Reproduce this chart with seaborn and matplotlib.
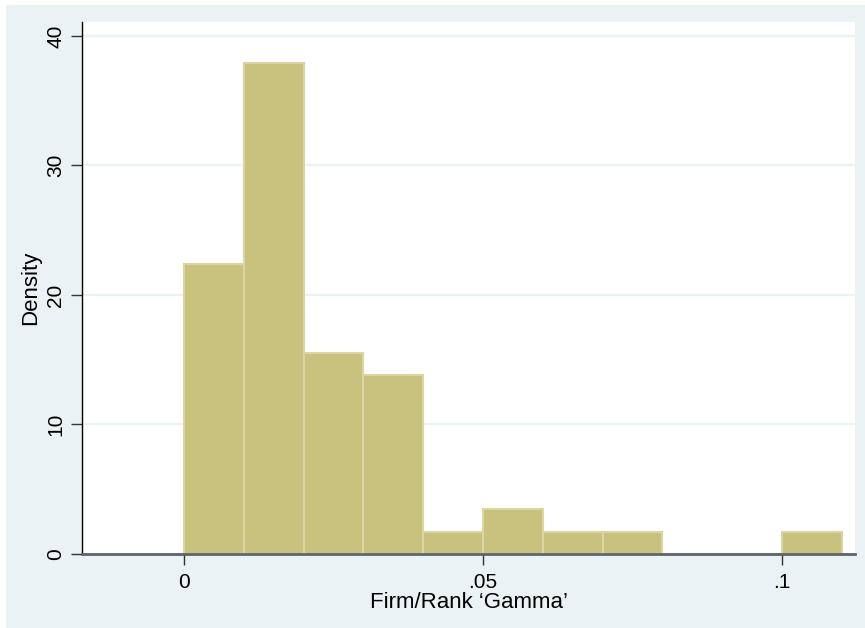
import numpy as np
import pandas as pd
import seaborn as sns
import matplotlib
matplotlib.use("Agg")
import matplotlib.pyplot as plt
from matplotlib.patches import Rectangle

# Histogram of firm/rank gamma: bin edges (width .01) and observation counts per bin
bin_edges = [0.00, 0.01, 0.02, 0.03, 0.04, 0.05, 0.06, 0.07, 0.08, 0.09, 0.10, 0.11]
bin_counts = [13, 22, 9, 8, 1, 2, 1, 1, 0, 0, 1]

x_ticks = [0.0, 0.05, 0.10]
x_tick_labels = ["0", ".05", ".1"]
y_ticks = [0, 10, 20, 30, 40]
y_tick_labels = ["0", "10", "20", "30", "40"]

x_label = "Firm/Rank \u2018Gamma\u2019"
y_label = "Density"

edges = np.array(bin_edges)
df = pd.DataFrame({
    "gamma": (edges[:-1] + edges[1:]) / 2,
    "n": bin_counts,
})

sns.set_theme(style="white")
plt.rcParams["font.family"] = ["Liberation Sans", "DejaVu Sans"]

BG = "#EAF2F3"
W, H = 865, 628
fig = plt.figure(figsize=(W / 100, H / 100), dpi=100, facecolor="white")
fig.patches.append(Rectangle((6 / W, 0), 1 - 6 / W, 1 - 5 / H,
                             transform=fig.transFigure, facecolor=BG,
                             edgecolor="none", zorder=-10))

ax = fig.add_axes([82 / W, (H - 554) / H, (855 - 82) / W, (554 - 22) / H])
ax.set_facecolor("white")

sns.histplot(data=df, x="gamma", weights="n", bins=list(bin_edges),
             stat="density", color="#C9C27E", edgecolor="#DAD5A3",
             linewidth=1.5, alpha=1, ax=ax, zorder=3)

ax.set_xlim(-0.01706, 0.11221)
ax.set_ylim(0, 41.08)

ax.set_yticks(y_ticks)
ax.set_yticklabels(y_tick_labels, rotation=90, va="center")
ax.set_xticks(x_ticks)
ax.set_xticklabels(x_tick_labels)

ax.yaxis.grid(True, color=BG, linewidth=1.6, zorder=0)
ax.xaxis.grid(False)
ax.set_axisbelow(True)

for s in ("top", "right"):
    ax.spines[s].set_visible(False)
ax.spines["left"].set_color("black")
ax.spines["left"].set_linewidth(1.0)
ax.spines["bottom"].set_color("#5F6466")
ax.spines["bottom"].set_linewidth(2.0)
ax.spines["bottom"].set_zorder(5)

ax.tick_params(axis="y", length=8, width=1, color="#333333", pad=4,
               labelsize=15, labelcolor="black", left=True)
ax.tick_params(axis="x", length=8, width=1, color="#333333", pad=6,
               labelsize=15, labelcolor="black", bottom=True)

ax.set_xlabel(x_label, fontsize=16, color="black")
ax.set_ylabel(y_label, fontsize=16, color="black")
ax.xaxis.set_label_coords(0.5, -0.0714)
ax.yaxis.set_label_coords(-0.053, 0.5)

fig.savefig("out.png", dpi=100, facecolor=fig.get_facecolor())
